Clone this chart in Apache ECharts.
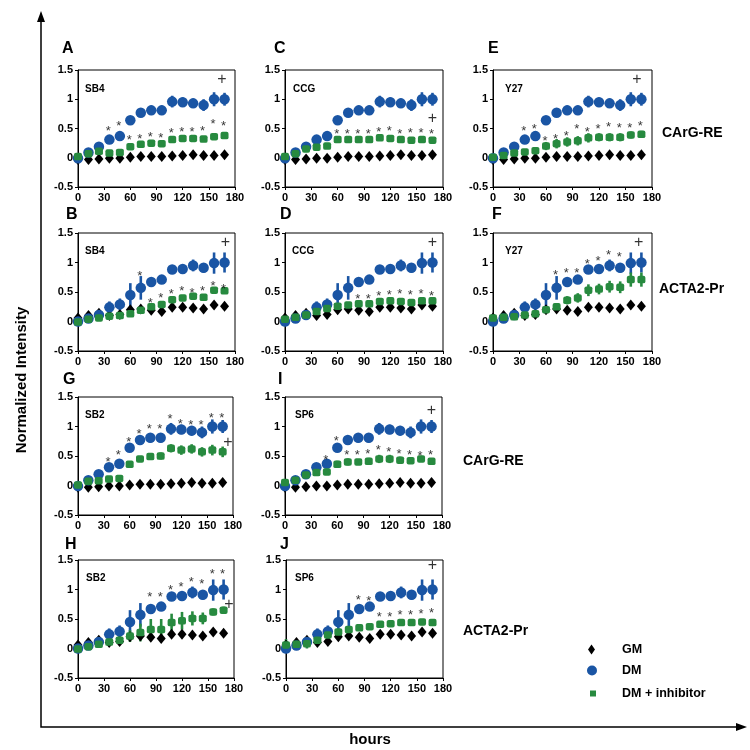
<!DOCTYPE html>
<html><head><meta charset="utf-8">
<script src="https://cdn.jsdelivr.net/npm/echarts/dist/echarts.min.js"></script>
<style>html,body{margin:0;padding:0;background:#fff}#c{width:750px;height:750px}</style>
</head><body><div id="c"></div>
<script>
const FONT = "'Liberation Sans', Arial, sans-serif";
const HOURS = [0, 12, 24, 36, 48, 60, 72, 84, 96, 108, 120, 132, 144, 156, 168];
const X_TICKS = [0, 30, 60, 90, 120, 150, 180];
const Y_TICKS = [-0.5, 0, 0.5, 1, 1.5];

// CArG-RE reporter (panels A, C, E, G, I)
const DM_CARG      = [-0.01, 0.09, 0.19, 0.31, 0.37, 0.64, 0.77, 0.81, 0.81, 0.96, 0.95, 0.93, 0.90, 1.00, 1.00];
const DM_CARG_ERR  = [0.03, 0.03, 0.03, 0.05, 0.06, 0.06, 0.06, 0.08, 0.08, 0.10, 0.08, 0.08, 0.10, 0.12, 0.11];
const GM_CARG      = [-0.03, -0.03, -0.02, -0.01, -0.01, 0.01, 0.02, 0.02, 0.02, 0.03, 0.04, 0.05, 0.04, 0.04, 0.05];
const GM_CARG_ERR  = [0.02, 0.02, 0.02, 0.02, 0.02, 0.02, 0.02, 0.02, 0.02, 0.02, 0.02, 0.02, 0.02, 0.02, 0.02];
// ACTA2-Pr reporter (panels B, D, F, H, J)
const DM_ACTA2     = [0.00, 0.05, 0.11, 0.24, 0.29, 0.45, 0.57, 0.67, 0.71, 0.88, 0.89, 0.95, 0.91, 0.99, 1.00];
const DM_ACTA2_ERR = [0.02, 0.03, 0.05, 0.10, 0.10, 0.20, 0.20, 0.05, 0.04, 0.03, 0.03, 0.10, 0.08, 0.18, 0.17];
const GM_ACTA2     = [0.06, 0.10, 0.14, 0.10, 0.12, 0.20, 0.21, 0.19, 0.17, 0.24, 0.24, 0.23, 0.21, 0.28, 0.26];
const GM_ACTA2_ERR = [0.02, 0.02, 0.02, 0.02, 0.02, 0.03, 0.03, 0.03, 0.03, 0.03, 0.03, 0.03, 0.03, 0.03, 0.03];

// DM + inhibitor per panel
const INH_A = [0.02, 0.07, 0.11, 0.08, 0.09, 0.19, 0.23, 0.25, 0.24, 0.31, 0.33, 0.33, 0.32, 0.36, 0.38];
const INH_A_ERR = [0.02, 0.02, 0.02, 0.03, 0.03, 0.04, 0.04, 0.05, 0.05, 0.04, 0.04, 0.05, 0.05, 0.05, 0.05];
const INH_C = [0.02, 0.07, 0.15, 0.18, 0.20, 0.31, 0.31, 0.31, 0.31, 0.34, 0.33, 0.31, 0.30, 0.31, 0.30];
const INH_C_ERR = [0.03, 0.03, 0.03, 0.03, 0.03, 0.03, 0.03, 0.03, 0.03, 0.03, 0.03, 0.03, 0.03, 0.03, 0.03];
const INH_E = [0.01, 0.04, 0.08, 0.10, 0.12, 0.20, 0.24, 0.27, 0.29, 0.34, 0.35, 0.35, 0.35, 0.39, 0.40];
const INH_E_ERR = [0.03, 0.03, 0.04, 0.05, 0.05, 0.07, 0.08, 0.08, 0.08, 0.08, 0.07, 0.07, 0.07, 0.06, 0.06];
const INH_B = [-0.01, 0.04, 0.06, 0.09, 0.10, 0.13, 0.19, 0.25, 0.29, 0.37, 0.40, 0.43, 0.41, 0.53, 0.52];
const INH_B_ERR = [0.02, 0.02, 0.02, 0.03, 0.03, 0.04, 0.04, 0.04, 0.05, 0.05, 0.05, 0.05, 0.04, 0.04, 0.04];
const INH_D = [0.04, 0.07, 0.11, 0.17, 0.22, 0.26, 0.28, 0.30, 0.30, 0.34, 0.35, 0.34, 0.32, 0.35, 0.35];
const INH_D_ERR = [0.04, 0.04, 0.04, 0.04, 0.04, 0.04, 0.04, 0.04, 0.04, 0.05, 0.05, 0.05, 0.05, 0.05, 0.05];
const INH_F = [0.06, 0.07, 0.08, 0.11, 0.13, 0.20, 0.25, 0.36, 0.40, 0.53, 0.55, 0.59, 0.58, 0.71, 0.71];
const INH_F_ERR = [0.03, 0.03, 0.04, 0.05, 0.05, 0.05, 0.06, 0.07, 0.08, 0.10, 0.09, 0.10, 0.10, 0.12, 0.12];
const INH_G = [0.01, 0.07, 0.08, 0.11, 0.12, 0.36, 0.45, 0.49, 0.50, 0.63, 0.60, 0.62, 0.57, 0.60, 0.57];
const INH_G_ERR = [0.03, 0.03, 0.03, 0.04, 0.04, 0.05, 0.04, 0.05, 0.06, 0.07, 0.08, 0.08, 0.08, 0.09, 0.09];
const INH_I = [0.05, 0.09, 0.18, 0.22, 0.23, 0.36, 0.40, 0.40, 0.41, 0.45, 0.45, 0.43, 0.42, 0.45, 0.41];
const INH_I_ERR = [0.05, 0.04, 0.04, 0.04, 0.05, 0.06, 0.06, 0.05, 0.06, 0.07, 0.07, 0.06, 0.05, 0.05, 0.05];
const INH_H = [-0.01, 0.03, 0.07, 0.11, 0.14, 0.21, 0.27, 0.32, 0.32, 0.44, 0.47, 0.51, 0.51, 0.62, 0.65];
const INH_H_ERR = [0.03, 0.04, 0.05, 0.07, 0.07, 0.10, 0.15, 0.18, 0.18, 0.15, 0.15, 0.12, 0.10, 0.06, 0.06];
const INH_J = [0.06, 0.07, 0.08, 0.14, 0.23, 0.28, 0.32, 0.35, 0.37, 0.41, 0.42, 0.44, 0.44, 0.45, 0.44];
const INH_J_ERR = [0.10, 0.08, 0.08, 0.06, 0.05, 0.04, 0.04, 0.03, 0.03, 0.03, 0.03, 0.03, 0.03, 0.03, 0.03];

// significance marks (*) : hour and height
const STAR_X_A = [36, 48, 60, 72, 84, 96, 108, 120, 132, 144, 156, 168];
const STAR_Y_A = [0.52, 0.61, 0.36, 0.39, 0.41, 0.40, 0.48, 0.50, 0.50, 0.52, 0.64, 0.60];
const STAR_X_C = [60, 72, 84, 96, 108, 120, 132, 144, 156, 168];
const STAR_Y_C = [0.47, 0.47, 0.47, 0.47, 0.50, 0.51, 0.47, 0.48, 0.48, 0.47];
const STAR_X_E = [36, 48, 60, 72, 84, 96, 108, 120, 132, 144, 156, 168];
const STAR_Y_E = [0.51, 0.55, 0.35, 0.39, 0.44, 0.55, 0.50, 0.55, 0.58, 0.57, 0.57, 0.60];
const STAR_X_B = [72, 84, 96, 108, 120, 132, 144, 156, 168];
const STAR_Y_B = [0.83, 0.38, 0.46, 0.53, 0.58, 0.55, 0.58, 0.66, 0.61];
const STAR_X_D = [84, 96, 108, 120, 132, 144, 156, 168];
const STAR_Y_D = [0.45, 0.45, 0.49, 0.51, 0.53, 0.51, 0.53, 0.49];
const STAR_X_F = [72, 84, 96, 108, 120, 132, 144];
const STAR_Y_F = [0.85, 0.89, 0.89, 1.03, 1.09, 1.19, 1.16];
const STAR_X_G = [36, 48, 60, 72, 84, 96, 108, 120, 132, 144, 156, 168];
const STAR_Y_G = [0.46, 0.57, 0.80, 0.93, 1.02, 1.01, 1.19, 1.10, 1.08, 1.08, 1.21, 1.20];
const STAR_X_I = [48, 60, 72, 84, 96, 108, 120, 132, 144, 156, 168];
const STAR_Y_I = [0.50, 0.81, 0.57, 0.57, 0.59, 0.67, 0.63, 0.59, 0.57, 0.56, 0.58];
const STAR_X_H = [84, 96, 108, 120, 132, 144, 156, 168];
const STAR_Y_H = [0.93, 0.93, 1.05, 1.10, 1.19, 1.16, 1.33, 1.33];
const STAR_X_J = [84, 96, 108, 120, 132, 144, 156, 168];
const STAR_Y_J = [0.88, 0.87, 0.60, 0.60, 0.62, 0.62, 0.65, 0.67];

// "+" marks : [hour, height]
const PLUS_A = [165, 1.34], PLUS_C = [168, 0.67], PLUS_E = [163, 1.33];
const PLUS_B = [169, 1.33], PLUS_D = [168, 1.34], PLUS_F = [165, 1.33];
const PLUS_G = [174, 0.73], PLUS_I = [168, 1.27], PLUS_H = [174, 0.74], PLUS_J = [168, 1.40];

const C_BLUE = '#1a55a4', C_GREEN = '#278a3f', C_BLACK = '#000';

const panels = [
  {id:'A', box:[78, 70, 157, 117],  letter:[68, 50],  tag:[85, 90],   name:'SB4', dm:DM_CARG,  dmE:DM_CARG_ERR,  gm:GM_CARG,  gmE:GM_CARG_ERR,  inh:INH_A, inhE:INH_A_ERR, sx:STAR_X_A, sy:STAR_Y_A, plus:PLUS_A},
  {id:'C', box:[285, 70, 158, 117], letter:[280, 50], tag:[293, 90],  name:'CCG', dm:DM_CARG,  dmE:DM_CARG_ERR,  gm:GM_CARG,  gmE:GM_CARG_ERR,  inh:INH_C, inhE:INH_C_ERR, sx:STAR_X_C, sy:STAR_Y_C, plus:PLUS_C},
  {id:'E', box:[493, 70, 159, 117], letter:[494, 50], tag:[505, 90],  name:'Y27', dm:DM_CARG,  dmE:DM_CARG_ERR,  gm:GM_CARG,  gmE:GM_CARG_ERR,  inh:INH_E, inhE:INH_E_ERR, sx:STAR_X_E, sy:STAR_Y_E, plus:PLUS_E},
  {id:'B', box:[78, 233, 157, 118], letter:[72, 216], tag:[85, 252],  name:'SB4', dm:DM_ACTA2, dmE:DM_ACTA2_ERR, gm:GM_ACTA2, gmE:GM_ACTA2_ERR, inh:INH_B, inhE:INH_B_ERR, sx:STAR_X_B, sy:STAR_Y_B, plus:PLUS_B},
  {id:'D', box:[285, 233, 158, 118],letter:[286, 216],tag:[292, 252], name:'CCG', dm:DM_ACTA2, dmE:DM_ACTA2_ERR, gm:GM_ACTA2, gmE:GM_ACTA2_ERR, inh:INH_D, inhE:INH_D_ERR, sx:STAR_X_D, sy:STAR_Y_D, plus:PLUS_D},
  {id:'F', box:[493, 233, 159, 118],letter:[498, 216],tag:[505, 252], name:'Y27', dm:DM_ACTA2, dmE:DM_ACTA2_ERR, gm:GM_ACTA2, gmE:GM_ACTA2_ERR, inh:INH_F, inhE:INH_F_ERR, sx:STAR_X_F, sy:STAR_Y_F, plus:PLUS_F},
  {id:'G', box:[78, 397, 155, 118], letter:[69, 381], tag:[85, 416],  name:'SB2', dm:DM_CARG,  dmE:DM_CARG_ERR,  gm:GM_CARG,  gmE:GM_CARG_ERR,  inh:INH_G, inhE:INH_G_ERR, sx:STAR_X_G, sy:STAR_Y_G, plus:PLUS_G},
  {id:'I', box:[285, 397, 157, 118],letter:[284, 381],tag:[295, 416], name:'SP6', dm:DM_CARG,  dmE:DM_CARG_ERR,  gm:GM_CARG,  gmE:GM_CARG_ERR,  inh:INH_I, inhE:INH_I_ERR, sx:STAR_X_I, sy:STAR_Y_I, plus:PLUS_I},
  {id:'H', box:[78, 560, 156, 118], letter:[71, 546], tag:[86, 579],  name:'SB2', dm:DM_ACTA2, dmE:DM_ACTA2_ERR, gm:GM_ACTA2, gmE:GM_ACTA2_ERR, inh:INH_H, inhE:INH_H_ERR, sx:STAR_X_H, sy:STAR_Y_H, plus:PLUS_H},
  {id:'J', box:[286, 560, 157, 118],letter:[286, 546],tag:[295, 579], name:'SP6', dm:DM_ACTA2, dmE:DM_ACTA2_ERR, gm:GM_ACTA2, gmE:GM_ACTA2_ERR, inh:INH_J, inhE:INH_J_ERR, sx:STAR_X_J, sy:STAR_Y_J, plus:PLUS_J}
];

const rowLabels = [
  {text:'CArG-RE', pos:[662, 134]},
  {text:'ACTA2-Pr', pos:[659, 290]},
  {text:'CArG-RE', pos:[463, 462]},
  {text:'ACTA2-Pr', pos:[463, 632]}
];

function errRender(params, api) {
  const x = api.value(0), y = api.value(1), e = api.value(2);
  const p1 = api.coord([x, y - e]), p2 = api.coord([x, y + e]);
  return {type:'line', shape:{x1:p1[0], y1:p1[1], x2:p2[0], y2:p2[1]},
          style:{stroke: api.visual('color'), lineWidth: 2.6}};
}

const grids = [], xAxes = [], yAxes = [], series = [], graphics = [];
const tickLabel = {color:'#000', fontFamily:FONT, fontWeight:'bold', fontSize:11};

panels.forEach((p, i) => {
  grids.push({left:p.box[0], top:p.box[1], width:p.box[2], height:p.box[3], show:true,
    borderColor:'#000', borderWidth:1, backgroundColor:'transparent', containLabel:false, outerBoundsMode:'none'});
  xAxes.push({type:'value', gridIndex:i, min:X_TICKS[0], max:X_TICKS[X_TICKS.length-1], interval:30,
    axisLine:{show:true, onZero:false, lineStyle:{color:'#000', width:1}},
    axisTick:{show:true, length:3, lineStyle:{color:'#000'}},
    axisLabel:Object.assign({margin:5}, tickLabel), splitLine:{show:false}});
  yAxes.push({type:'value', gridIndex:i, min:Y_TICKS[0], max:Y_TICKS[Y_TICKS.length-1], interval:0.5,
    axisLine:{show:true, onZero:false, lineStyle:{color:'#000', width:1}},
    axisTick:{show:true, length:3, lineStyle:{color:'#000'}},
    axisLabel:Object.assign({margin:5}, tickLabel), splitLine:{show:false}});

  const mk = (vals) => HOURS.map((h, k) => [h, vals[k]]);
  const mkE = (vals, errs) => HOURS.map((h, k) => [h, vals[k], errs[k]]);
  const common = {xAxisIndex:i, yAxisIndex:i, silent:true};

  series.push(Object.assign({type:'custom', name:'GM err', renderItem:errRender, data:mkE(p.gm, p.gmE), itemStyle:{color:C_BLACK}}, common));
  series.push(Object.assign({type:'scatter', name:'GM', data:mk(p.gm), symbol:'diamond', symbolSize:[9, 11], itemStyle:{color:C_BLACK, opacity:1}}, common));
  series.push(Object.assign({type:'custom', name:'DM err', renderItem:errRender, data:mkE(p.dm, p.dmE), itemStyle:{color:C_BLUE}}, common));
  series.push(Object.assign({type:'scatter', name:'DM', data:mk(p.dm), symbol:'circle', symbolSize:10.5, itemStyle:{color:C_BLUE, opacity:1}}, common));
  series.push(Object.assign({type:'custom', name:'inh err', renderItem:errRender, data:mkE(p.inh, p.inhE), itemStyle:{color:C_GREEN}}, common));
  series.push(Object.assign({type:'scatter', name:'DM + inhibitor', data:mk(p.inh), symbol:'roundRect', symbolSize:[8, 7.5], itemStyle:{color:C_GREEN, opacity:1}}, common));
  series.push(Object.assign({type:'scatter', name:'stars', data:p.sx.map((x, k) => [x, p.sy[k]]), symbol:'circle', symbolSize:1,
    itemStyle:{color:'transparent'}, z:5,
    label:{show:true, position:'inside', formatter:'*', color:'#000', fontFamily:FONT, fontSize:13, offset:[-1, 4]}}, common));
  series.push(Object.assign({type:'scatter', name:'plus', data:[p.plus], symbol:'circle', symbolSize:1,
    itemStyle:{color:'transparent'}, z:5,
    label:{show:true, position:'inside', formatter:'+', color:'#000', fontFamily:FONT, fontSize:16, offset:[0, 0]}}, common));

  graphics.push({type:'text', left:p.letter[0] - 6, top:p.letter[1] - 9,
    style:{text:p.id, fontFamily:FONT, fontWeight:'bold', fontSize:16, fill:'#000'}});
  graphics.push({type:'text', left:p.tag[0], top:p.tag[1] - 6,
    style:{text:p.name, fontFamily:FONT, fontWeight:'bold', fontSize:10, fill:'#000'}});
});

rowLabels.forEach(r => graphics.push({type:'text', left:r.pos[0], top:r.pos[1] - 8,
  style:{text:r.text, fontFamily:FONT, fontWeight:'bold', fontSize:14, fill:'#000'}}));

// outer frame axes with arrows
graphics.push({type:'polyline', shape:{points:[[41, 20], [41, 727], [738, 727]]}, style:{stroke:'#000', lineWidth:1.5, fill:null}});
graphics.push({type:'polygon', shape:{points:[[41, 11], [37, 22], [45, 22]]}, style:{fill:'#000'}});
graphics.push({type:'polygon', shape:{points:[[747, 727], [736, 723], [736, 731]]}, style:{fill:'#000'}});
graphics.push({type:'text', x:22, y:380, rotation:Math.PI/2,
  style:{text:'Normalized Intensity', fontFamily:FONT, fontWeight:'bold', fontSize:15, fill:'#000', align:'center', verticalAlign:'middle'}});
graphics.push({type:'text', x:370, y:740,
  style:{text:'hours', fontFamily:FONT, fontWeight:'bold', fontSize:15, fill:'#000', align:'center', verticalAlign:'middle'}});

const legendText = {color:'#000', fontFamily:FONT, fontWeight:'bold', fontSize:12.5};
const legends = [
  {data:['GM'], icon:'diamond', left:588, top:643, itemWidth:7, itemHeight:10, textStyle:Object.assign({padding:[0,0,0,22]}, legendText)},
  {data:['DM'], icon:'circle', left:587, top:664, itemWidth:10, itemHeight:10, textStyle:Object.assign({padding:[0,0,0,20]}, legendText)},
  {data:['DM + inhibitor'], icon:'rect', left:590, top:687, itemWidth:6, itemHeight:6, textStyle:Object.assign({padding:[0,0,0,21]}, legendText)}
].map(l => Object.assign({orient:'vertical', padding:0, selectedMode:false, itemGap:0}, l));

const chart = echarts.init(document.getElementById('c'), null, {renderer:'canvas'});
chart.setOption({
  animation:false,
  backgroundColor:'#fff',
  grid:grids, xAxis:xAxes, yAxis:yAxes, series:series,
  legend:legends,
  graphic:graphics
});
</script></body></html>
